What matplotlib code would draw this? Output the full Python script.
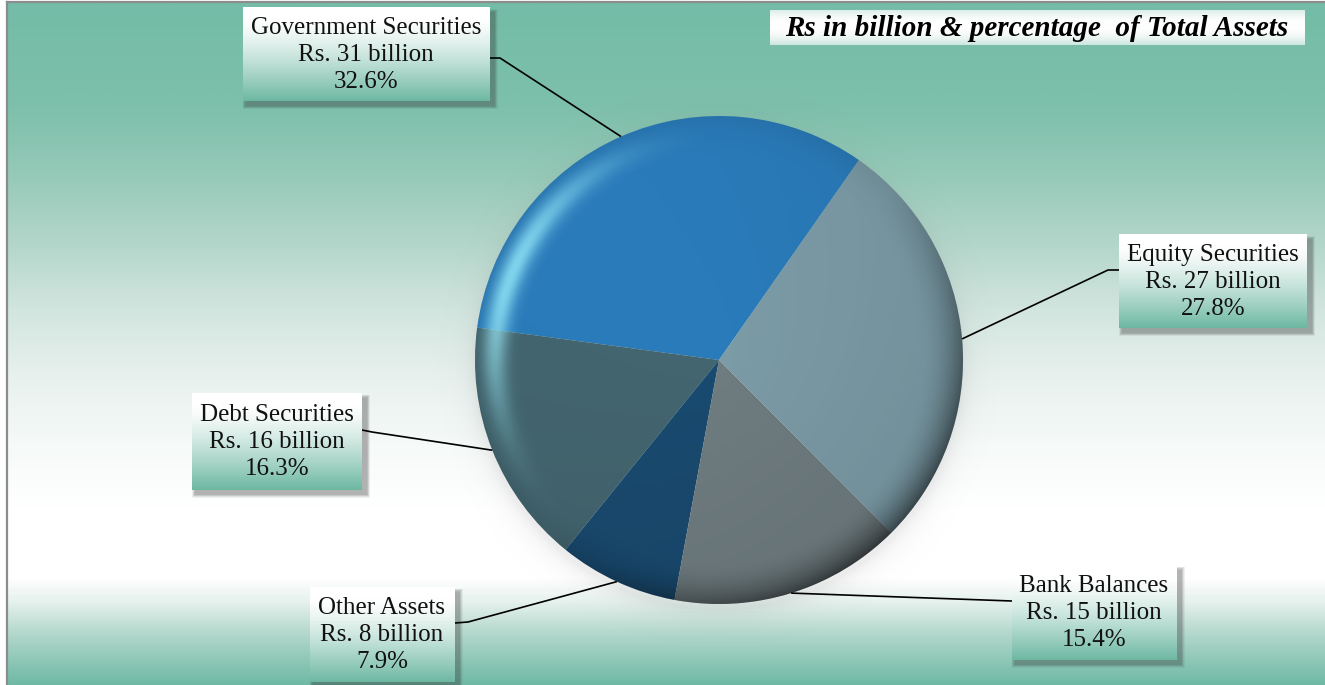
import numpy as np
import matplotlib
matplotlib.use("Agg")
import matplotlib.pyplot as plt
from matplotlib.colors import LinearSegmentedColormap, to_rgb
from matplotlib.patches import Rectangle, Circle

# Composition of total assets, counter-clockwise from the top right
categories = ["Government Securities", "Debt Securities", "Other Assets",
              "Bank Balances", "Equity Securities"]
amounts = [31, 16, 8, 15, 27]            # Rs. billion
shares = [32.6, 16.3, 7.9, 15.4, 27.8]   # % of total assets
slice_colors = ["#2A7BBA", "#43656F", "#194A6F", "#6F7C80", "#7B9BA6"]

title = "Rs in billion & percentage  of Total Assets"

W, H = 1325, 685
SERIF = "Liberation Serif"


def fy(y):
    # pixel rows counted from the top -> data y
    return H - y


# label boxes: centre, size, point where the leader leaves the box, elbow
label_layout = {
    "Government Securities": dict(c=(366, 54), wh=(247, 94), a=(490, 58), e=(500, 58)),
    "Debt Securities": dict(c=(277, 441), wh=(170, 97), a=(362, 430), e=(372, 432)),
    "Other Assets": dict(c=(382, 634), wh=(145, 95), a=(455, 623), e=(468, 622)),
    "Bank Balances": dict(c=(1094, 612), wh=(165, 95), a=(1012, 601), e=(1012, 601)),
    "Equity Securities": dict(c=(1213, 281), wh=(188, 94), a=(1119, 270), e=(1108, 270)),
}

fig = plt.figure(figsize=(W / 100, H / 100), dpi=100)
ax = fig.add_axes([0, 0, 1, 1])

# background: teal at the top, white band low down, teal again at the bottom
bg_stops = [(0.00, "#74BCA7"), (0.15, "#7DC0AB"), (0.25, "#95C9B8"),
            (0.35, "#B3D6CA"), (0.45, "#D2E5DF"), (0.55, "#E8F1EE"),
            (0.65, "#F6FAF9"), (0.74, "#FFFFFF"), (0.845, "#FFFFFF"),
            (0.88, "#E6F1ED"), (0.93, "#B0D6CA"), (1.00, "#70BAA5")]
bg_cmap = LinearSegmentedColormap.from_list("bg", bg_stops)
grad = np.linspace(0, 1, 685).reshape(-1, 1)
ax.imshow(grad, cmap=bg_cmap, aspect="auto", extent=(8, W, 0, fy(3)),
          interpolation="bilinear", zorder=0)
ax.plot([7, 7], [0, fy(2)], color="#8C8C8C", lw=1.6, zorder=1)
ax.plot([7, W], [fy(2), fy(2)], color="#8C8C8C", lw=1.6, zorder=1)

# pie
cx, cy, R = 719, fy(360), 244

# soft grey glow under the pie
n = 700
span = R + 40
gx = np.linspace(cx - span, cx + span, n)
gy = np.linspace(cy + span, cy - span, n)
GX, GY = np.meshgrid(gx, gy)
d = np.hypot(GX - cx, GY - (cy - 6)) - R
sh = np.zeros((n, n, 4))
sh[..., :3] = 0.55
sh[..., 3] = np.where(d > -20, 0.16 * np.exp(-np.clip(d, 0, None) / 10.0), 0.16)
ax.imshow(sh, extent=(cx - span, cx + span, cy - span, cy + span),
          interpolation="bilinear", zorder=2)

wedges, _ = ax.pie(shares, colors=slice_colors, startangle=55, counterclock=True,
                   center=(cx, cy), radius=R,
                   wedgeprops=dict(linewidth=0, zorder=3))
for w in wedges:
    w.set_zorder(3)

# rim shading to give the pie a domed look
m = 700
u = np.linspace(-1, 1, m)
X, Y = np.meshgrid(u, u[::-1])
r = np.hypot(X, Y)
ang = np.arctan2(Y, X)
rim = np.clip((r - 0.82) / 0.18, 0, 1) ** 2
side = np.clip(np.cos(ang - np.deg2rad(-45)), 0, 1)
away = 0.5 - 0.5 * np.cos(ang - np.deg2rad(140))
dark = np.zeros((m, m, 4))
dark[..., 3] = rim * (0.06 + 0.42 * side) + 0.08 * away * r
clip_circle = Circle((cx, cy), R, transform=ax.transData)
im = ax.imshow(dark, extent=(cx - R, cx + R, cy - R, cy + R),
               interpolation="bilinear", zorder=4)
im.set_clip_path(clip_circle)

hl = np.exp(-((r - 0.92) / 0.05) ** 2) * np.clip(np.cos(ang - np.deg2rad(158)), 0, 1) ** 5 * 0.75
light = np.zeros((m, m, 4))
light[..., 0], light[..., 1], light[..., 2] = 0.62, 0.95, 1.0
light[..., 3] = hl
im2 = ax.imshow(light, extent=(cx - R, cx + R, cy - R, cy + R),
                interpolation="bilinear", zorder=5)
im2.set_clip_path(Circle((cx, cy), R, transform=ax.transData))

# label boxes with a white-to-teal fill and drop shadow
teal = np.array(to_rgb("#6DB8A2"))
t = np.linspace(0, 1, 200)
f = np.clip((t - 0.12) / 0.88, 0, 1) ** 1.3
box_fill = (1 - f)[:, None] * np.ones(3) + f[:, None] * teal
box_fill = box_fill.reshape(-1, 1, 3)


def draw_box(x0, y0, x1, y1, fill, shadow=True):
    if shadow:
        for k in range(6):
            ax.add_patch(Rectangle((x0 + 3 - k * 0.6, fy(y1) - 5 - k * 0.6),
                                   (x1 - x0) + k * 1.2 + 2, (y1 - y0) + k * 1.2,
                                   facecolor="#303030", edgecolor="none",
                                   alpha=0.07, zorder=6))
    ax.imshow(fill, aspect="auto", extent=(x0, x1, fy(y1), fy(y0)),
              interpolation="bilinear", zorder=7)


for w, name, amt, pct in zip(wedges, categories, amounts, shares):
    lay = label_layout[name]
    bx, by = lay["c"]
    bw, bh = lay["wh"]
    draw_box(bx - bw / 2, by - bh / 2, bx + bw / 2, by + bh / 2, box_fill)
    ax.text(bx, fy(by + 1), f"{name}\nRs. {amt} billion\n{pct}%", ha="center",
            va="center", fontsize=18, family=SERIF, linespacing=1.3,
            color="#111111", zorder=8)
    # leader from the box to the middle of the slice's outer edge
    mid = np.deg2rad((w.theta1 + w.theta2) / 2)
    ex, ey = cx + R * np.cos(mid), cy + R * np.sin(mid)
    ax_, ay_ = lay["a"]
    elx, ely = lay["e"]
    ax.plot([ax_, elx, ex], [fy(ay_), fy(ely), ey], color="black", lw=1.2,
            solid_capstyle="butt", zorder=6)

# units note in the top right corner
tt = np.linspace(0, 1, 60)
edge = np.clip(np.abs(tt - 0.45) / 0.55, 0, 1) ** 2
title_fill = (1 - 0.35 * edge)[:, None] * np.ones(3) + (0.35 * edge)[:, None] * teal
draw_box(770, 10, 1305, 45, title_fill.reshape(-1, 1, 3), shadow=False)
ax.text(1037, fy(28), title, ha="center", va="center", fontsize=21,
        family=SERIF, style="italic", weight="bold", color="black", zorder=8)

ax.set_xlim(0, W)
ax.set_ylim(0, H)
ax.set_aspect("auto")
ax.axis("off")

fig.savefig("out.png", dpi=100, facecolor="white")
